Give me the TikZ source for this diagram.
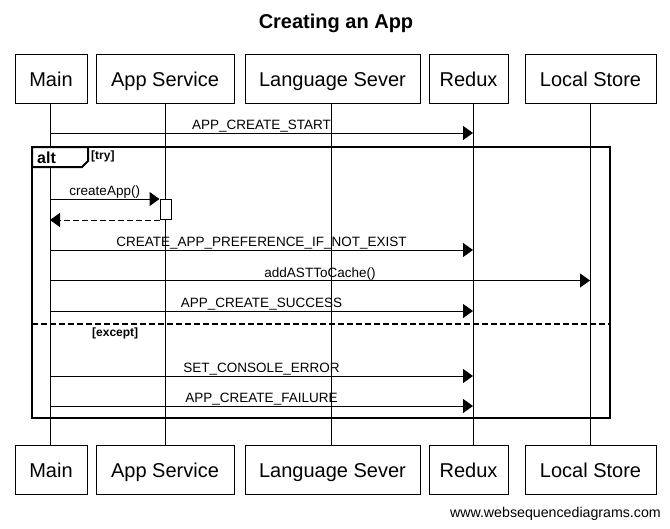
\documentclass[tikz,border=0pt]{standalone}
\usepackage{fontspec}
\setmainfont{Liberation Sans}
\usetikzlibrary{arrows.meta,calc}
\begin{document}
\begin{tikzpicture}[x=1pt,y=-1pt,
  actor/.style={draw,line width=1pt,minimum height=49pt,inner sep=0pt,
    font=\fontsize{20}{24}\selectfont,text height=15pt,text depth=0pt},
  life/.style={line width=1pt},
  msg/.style={line width=1pt,-{Triangle[length=10pt,width=14pt]}},
  ret/.style={msg,dash pattern=on 6pt off 3pt},
  lbl/.style={font=\fontsize{13.5}{15}\selectfont,anchor=base,inner sep=0pt,yshift=3.5pt},
  frm/.style={line width=2pt},
  cond/.style={font=\bfseries\fontsize{12}{14}\selectfont,anchor=west,inner sep=0pt}]
\useasboundingbox (0,0) rectangle (670,528);
\node[font=\bfseries\fontsize{20}{24}\selectfont] (title) at (336,23) {Creating an App};

% actors top
\node[actor,minimum width=72pt]  (mainT)  at (51,78.5)    {Main};
\node[actor,minimum width=138pt] (appT)   at (165,78.5)   {App Service};
\node[actor,minimum width=175pt] (langT)  at (332.5,78.5) {Language Sever};
\node[actor,minimum width=79pt]  (reduxT) at (468.5,78.5) {Redux};
\node[actor,minimum width=131pt] (storeT) at (590.5,78.5) {Local Store};
% actors bottom
\node[actor,minimum width=72pt]  (mainB)  at (51,470)    {Main};
\node[actor,minimum width=138pt] (appB)   at (165,470)   {App Service};
\node[actor,minimum width=175pt] (langB)  at (332.5,470) {Language Sever};
\node[actor,minimum width=79pt]  (reduxB) at (468.5,470) {Redux};
\node[actor,minimum width=131pt] (storeB) at (590.5,470) {Local Store};

% lifeline x positions
\coordinate (lM) at (50,0);
\coordinate (lA) at (165,0);
\coordinate (lL) at (331,0);
\coordinate (lR) at (473,0);
\coordinate (lS) at (590,0);
\draw[life] (lM |- mainT.south)  -- (lM |- mainB.north);
\draw[life] (lA |- appT.south)   -- (lA |- appB.north);
\draw[life] (lL |- langT.south)  -- (lL |- langB.north);
\draw[life] (lR |- reduxT.south) -- (lR |- reduxB.north);
\draw[life] (lS |- storeT.south) -- (lS |- storeB.north);

% message before frame
\draw[msg] (lM |- 0,133) -- (lR |- 0,133) node[lbl,midway] {APP\_CREATE\_START};

% alt frame
\draw[frm] (32,147) rectangle (610,418);
\draw[frm,fill=white] (32,147) -- (88,147) -- (88,161) -- (82,167) -- (32,167) -- cycle;
\node[font=\bfseries\fontsize{16}{18}\selectfont,anchor=west,inner sep=0pt] (alt) at (37,157.5) {alt};
\node[cond] (try) at (91,156) {[try]};
\draw[frm,dash pattern=on 6pt off 3pt] (32,323.5) -- (610,323.5);
\node[cond] (except) at (92,333) {[except]};

% activation
\node[draw,line width=1pt,fill=white,minimum width=11pt,minimum height=20pt,inner sep=0pt,anchor=north] (act) at (165.5,199) {};
\draw[msg] (lM |- act.north west) -- (act.north west) node[lbl,midway] {createApp()};
\draw[ret] (act.south west) -- (lM |- act.south west);

\draw[msg] (lM |- 0,250) -- (lR |- 0,250) node[lbl,midway] {CREATE\_APP\_PREFERENCE\_IF\_NOT\_EXIST};
\draw[msg] (lM |- 0,280.5) -- (lS |- 0,280.5) node[lbl,midway] {addASTToCache()};
\draw[msg] (lM |- 0,311) -- (lR |- 0,311) node[lbl,midway] {APP\_CREATE\_SUCCESS};
\draw[msg] (lM |- 0,376) -- (lR |- 0,376) node[lbl,midway] {SET\_CONSOLE\_ERROR};
\draw[msg] (lM |- 0,406) -- (lR |- 0,406) node[lbl,midway] {APP\_CREATE\_FAILURE};

\node[font=\fontsize{14.2}{16}\selectfont,anchor=east,inner sep=0pt] (web) at (661,514) {www.websequencediagrams.com};
\end{tikzpicture}
\end{document}
